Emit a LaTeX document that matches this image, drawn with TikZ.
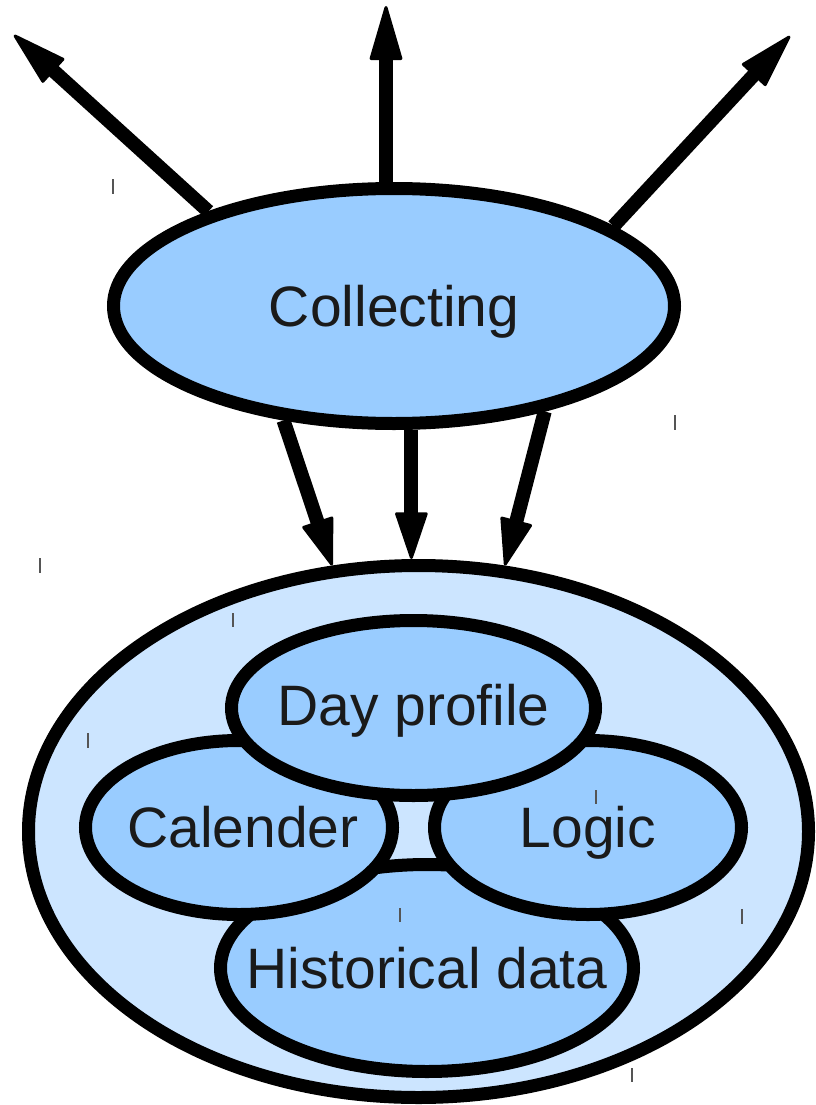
\documentclass[tikz,border=0pt]{standalone}
\usepackage{fontspec}
\setmainfont{Liberation Sans}
\usetikzlibrary{arrows.meta,shapes.geometric}
\definecolor{fillmid}{RGB}{153,204,255}
\definecolor{fillpale}{RGB}{204,229,255}
\definecolor{inkgray}{RGB}{26,26,26}
\definecolor{tickgray}{RGB}{85,85,85}
\begin{document}
\begin{tikzpicture}[x=1pt,y=-1pt,
  blob/.style={ellipse, draw=black, line width=13pt, fill=fillmid, inner sep=0pt},
  caption/.style={inner sep=0pt, text=inkgray, font=\fontsize{57}{68}\selectfont,
    text height=40.8pt, text depth=0pt},
  outflow/.style={line width=14pt, -{Triangle[length=58pt,width=33pt,line width=3pt,round]}},
  inflow/.style={line width=14pt, -{Triangle[length=50pt,width=33pt,line width=3pt,round]}},
  tickmark/.style={draw=tickgray, line width=1.2pt}]
\useasboundingbox (0,0) rectangle (816,1105);

% container and its four parts (later ones lie on top)
\node[blob, fill=fillpale, minimum width=780pt, minimum height=532pt] (outer) at (418.5,831.5) {};
\node[blob, minimum width=413pt, minimum height=207pt] (hist) at (427,968) {};
\node[blob, minimum width=307pt, minimum height=174pt] (cal) at (239,827.5) {};
\node[blob, minimum width=307pt, minimum height=174pt] (logic) at (588,827.5) {};
\node[blob, minimum width=364pt, minimum height=175pt] (day) at (413.5,708) {};

% collector
\node[blob, minimum width=561pt, minimum height=235pt] (coll) at (394,306) {};

% captions
\node[caption] (collT) at (coll.center) {Collecting};
\node[caption] (dayT) at ([yshift=3pt]day.center) {Day profile};
\node[caption] (calT) at ([xshift=4pt]cal.center) {Calender};
\node[caption] (logicT) at (logic.center) {Logic};
\node[caption] (histT) at (hist.center) {Historical data};

% outgoing arrows
\coordinate (tl) at (14,35);
\coordinate (tm) at (386,6);
\coordinate (tr) at (790,36);
\draw[outflow] (coll.153) -- (tl);
\draw[outflow] (tm |- coll.north) -- (tm);
\draw[outflow] (coll.20) -- (tr);

% arrows into the container
\draw[inflow] (coll.-134) -- (outer.108.6);
\draw[inflow] (coll.-82) -- (coll.-82 |- outer.north);
\draw[inflow] (coll.-35) -- (outer.72.5);

% small stray strokes
\draw[tickmark] (113,179) -- (113,194);
\draw[tickmark] (675,415) -- (675,430);
\draw[tickmark] (40,558) -- (40,573);
\draw[tickmark] (233,613) -- (233,627);
\draw[tickmark] (88,733) -- (88,748);
\draw[tickmark] (596,790) -- (596,804);
\draw[tickmark] (400,908) -- (400,922);
\draw[tickmark] (742,909) -- (742,924);
\draw[tickmark] (632,1068) -- (632,1082);
\end{tikzpicture}
\end{document}
